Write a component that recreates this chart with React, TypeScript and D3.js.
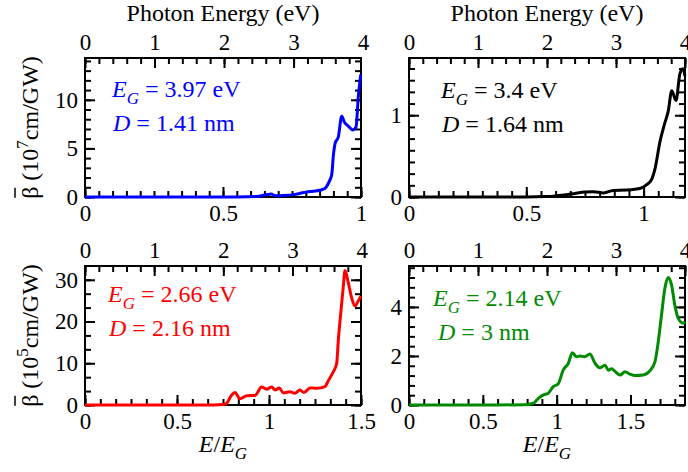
import React, { useRef, useEffect } from 'react';
import * as d3 from 'd3';

// E/E_G and beta-bar values
const blueX = [0, 0.3, 0.55, 0.62, 0.66, 0.675, 0.69, 0.72, 0.75, 0.78, 0.8, 0.826, 0.851, 0.87, 0.885, 0.894, 0.9, 0.906, 0.918, 0.93, 0.94, 0.954, 0.97, 0.982, 0.99, 0.999];
const blueY = [0, 0, 0, 0.05, 0.25, 0.3, 0.12, 0.15, 0.22, 0.38, 0.5, 0.6, 0.7, 0.9, 1.6, 2.3, 4.3, 5.5, 6.2, 8.3, 7.7, 7.3, 6.9, 7.2, 10.2, 12.6];

const blackX = [0, 0.5, 0.58, 0.615, 0.66, 0.7, 0.75, 0.786, 0.83, 0.87, 0.928, 0.99, 1.013, 1.035, 1.049, 1.07, 1.09, 1.105, 1.12, 1.138, 1.155, 1.169, 1.176];
const blackY = [0, 0, 0.005, 0.01, 0.025, 0.04, 0.06, 0.065, 0.05, 0.08, 0.085, 0.11, 0.15, 0.22, 0.35, 0.68, 0.9, 1.05, 1.3, 1.18, 1.51, 1.57, 1.48];

const redX = [0, 0.5, 0.7, 0.75, 0.77, 0.797, 0.815, 0.842, 0.879, 0.924, 0.96, 0.987, 1.015, 1.033, 1.056, 1.078, 1.114, 1.141, 1.168, 1.19, 1.223, 1.26, 1.304, 1.32, 1.335, 1.35, 1.368, 1.377, 1.39, 1.404, 1.413, 1.43, 1.449, 1.467, 1.485, 1.5];
const redY = [0, 0, 0, 0.1, 0.4, 2.4, 3.0, 1.5, 2.2, 2.3, 4.3, 3.8, 4.3, 3.6, 4.1, 2.9, 3.2, 2.8, 3.6, 3.0, 4.1, 4.0, 4.4, 5.6, 6.8, 8.0, 10.0, 15.7, 22.0, 28.5, 32.2, 29.5, 25.7, 23.7, 24.9, 26.1];

const greenX = [0, 0.5, 0.78, 0.842, 0.876, 0.91, 0.943, 0.977, 1.01, 1.045, 1.079, 1.106, 1.135, 1.158, 1.19, 1.225, 1.26, 1.293, 1.327, 1.35, 1.372, 1.395, 1.43, 1.462, 1.496, 1.53, 1.586, 1.632, 1.666, 1.688, 1.71, 1.733, 1.756, 1.778, 1.8, 1.823, 1.857, 1.869];
const greenY = [0, 0, 0.01, 0.07, 0.27, 0.41, 0.48, 0.75, 0.86, 1.43, 1.7, 2.13, 1.97, 2.0, 1.97, 2.08, 1.7, 1.52, 1.62, 1.42, 1.48, 1.37, 1.22, 1.36, 1.26, 1.2, 1.22, 1.4, 1.77, 2.58, 3.67, 4.76, 5.2, 4.9, 4.08, 3.54, 3.33, 3.4];

const gapValues = [3.97, 3.4, 2.66, 2.14];
const gapLabels = ['3.97', '3.4', '2.66', '2.14'];
const sizeLabels = ['1.41', '1.64', '2.16', '3'];
const yExponents = ['7', '5'];

const topTicks = [0, 1, 2, 3, 4];
const xTicksTop = [0, 0.5, 1];
const xTicksBottom = [0, 0.5, 1, 1.5];
const yTicksA = [0, 5, 10];
const yTicksB = [0, 1];
const yTicksC = [0, 10, 20, 30];
const yTicksD = [0, 2, 4];

const FONT = "'Liberation Serif', 'Times New Roman', serif";
const W = 276;
const H = 139;

const panels = [
  { xs: blueX, ys: blueY, color: '#0000ff', left: 85, top: 58, xMax: 1, yMax: 14.3, xMinor: 0.05, yMinor: 1, xTicks: xTicksTop, yTicks: yTicksA, tx: 27, ty: 39 },
  { xs: blackX, ys: blackY, color: '#000000', left: 409, top: 58, xMax: 4 / 3.4, yMax: 1.7, xMinor: 0.0625, yMinor: 1 / 7, xTicks: xTicksTop, yTicks: yTicksB, tx: 32, ty: 40 },
  { xs: redX, ys: redY, color: '#ff0000', left: 85, top: 266, xMax: 1.5, yMax: 33.3, xMinor: 0.5 / 6, yMinor: 10 / 3, xTicks: xTicksBottom, yTicks: yTicksC, tx: 23, ty: 36 },
  { xs: greenX, ys: greenY, color: '#008b00', left: 409, top: 266, xMax: 4 / 2.14, yMax: 5.67, xMinor: 0.1, yMinor: 0.4, xTicks: xTicksBottom, yTicks: yTicksD, tx: 24, ty: 40 },
];

const steps = (max: number, step: number) => d3.range(0, max + 1e-6, step);

function styleAxis(sel: any) {
  sel.select('.domain').remove();
  sel.attr('font-family', null).attr('font-size', null).attr('stroke-width', 2);
  sel.selectAll('text').attr('fill', '#000').style('font-family', FONT).style('font-size', '23px');
}

function drawPanel(svg: any, p: any, i: number) {
  const gap = gapValues[i];
  const x = d3.scaleLinear().domain([0, p.xMax]).range([p.left, p.left + W]);
  const xe = d3.scaleLinear().domain([0, p.xMax * gap]).range([p.left, p.left + W]);
  const y = d3.scaleLinear().domain([0, p.yMax]).range([p.top + H, p.top]);
  const g = svg.append('g');
  const bottom = p.top + H;

  const eMax = p.xMax * gap + 1e-6;
  // top axis: photon energy
  g.append('g').attr('transform', `translate(0,${p.top})`)
    .call(d3.axisTop(xe).tickValues(steps(eMax, 0.2)).tickSize(-6).tickFormat(() => '')).call(styleAxis);
  g.append('g').attr('transform', `translate(0,${p.top})`)
    .call(d3.axisTop(xe).tickValues(topTicks).tickSize(-10).tickPadding(8).tickFormat(d3.format('d'))).call(styleAxis)
    .selectAll('.tick line').attr('display', (d: number) => (d > eMax ? 'none' : null));

  // bottom axis: E/E_G
  g.append('g').attr('transform', `translate(0,${bottom})`)
    .call(d3.axisBottom(x).tickValues(steps(p.xMax, p.xMinor)).tickSize(-6).tickFormat(() => '')).call(styleAxis);
  g.append('g').attr('transform', `translate(0,${bottom})`)
    .call(d3.axisBottom(x).tickValues(p.xTicks).tickSize(-10).tickPadding(8).tickFormat(d3.format('~g'))).call(styleAxis);

  // left and right
  g.append('g').attr('transform', `translate(${p.left},0)`)
    .call(d3.axisLeft(y).tickValues(steps(p.yMax, p.yMinor)).tickSize(-6).tickFormat(() => '')).call(styleAxis);
  g.append('g').attr('transform', `translate(${p.left},0)`)
    .call(d3.axisLeft(y).tickValues(p.yTicks).tickSize(-10).tickPadding(7).tickFormat(d3.format('d'))).call(styleAxis);
  g.append('g').attr('transform', `translate(${p.left + W},0)`)
    .call(d3.axisRight(y).tickValues(steps(p.yMax, p.yMinor)).tickSize(-6).tickFormat(() => '')).call(styleAxis);
  g.append('g').attr('transform', `translate(${p.left + W},0)`)
    .call(d3.axisRight(y).tickValues(p.yTicks).tickSize(-10).tickFormat(() => '')).call(styleAxis);

  g.append('rect')
    .attr('x', p.left).attr('y', p.top).attr('width', W).attr('height', H)
    .attr('fill', 'none').attr('stroke', '#000').attr('stroke-width', 2);

  const line = d3.line<number>()
    .x((_, k) => x(p.xs[k]))
    .y((d) => y(d))
    .curve(d3.curveMonotoneX);
  g.append('path')
    .attr('d', line(p.ys))
    .attr('fill', 'none')
    .attr('stroke', p.color)
    .attr('stroke-width', 3)
    .attr('stroke-linejoin', 'round');

  // annotations
  const t1 = g.append('text')
    .attr('x', p.left + p.tx).attr('y', p.top + p.ty)
    .style('font-family', FONT).style('font-size', '24px').attr('fill', p.color);
  t1.append('tspan').attr('font-style', 'italic').text('E');
  t1.append('tspan').attr('font-style', 'italic').style('font-size', '17px').attr('dy', 7).text('G');
  t1.append('tspan').attr('dy', -7).text(` = ${gapLabels[i]} eV`);

  const t2 = g.append('text')
    .attr('x', p.left + p.tx + (i === 3 ? 5 : 1)).attr('y', p.top + p.ty + 34)
    .style('font-family', FONT).style('font-size', '24px').attr('fill', p.color);
  t2.append('tspan').attr('font-style', 'italic').text('D');
  t2.append('tspan').text(` = ${sizeLabels[i]} nm`);

  // axis titles
  const cx = p.left + W / 2;
  if (i < 2) {
    g.append('text').attr('x', cx).attr('y', 21).attr('text-anchor', 'middle')
      .style('font-family', FONT).style('font-size', '24px').text('Photon Energy (eV)');
  } else {
    const xt = g.append('text').attr('x', cx).attr('y', 452).attr('text-anchor', 'middle')
      .style('font-family', FONT).style('font-size', '24px');
    xt.append('tspan').attr('font-style', 'italic').text('E');
    xt.append('tspan').text('/');
    xt.append('tspan').attr('font-style', 'italic').text('E');
    xt.append('tspan').attr('font-style', 'italic').style('font-size', '17px').attr('dy', 7).text('G');
  }

  if (i % 2 === 0) {
    const cy = p.top + H / 2;
    const yg = g.append('g').attr('transform', `translate(38,${cy}) rotate(-90)`);
    const yt = yg.append('text').attr('text-anchor', 'middle')
      .style('font-family', FONT).style('font-size', '24px');
    yt.append('tspan').text('β');
    yt.append('tspan').text(' (10');
    yt.append('tspan').style('font-size', '17px').attr('dy', -10).text(yExponents[i / 2]);
    yt.append('tspan').attr('dy', 10).text('cm/GW)');
    const node = yt.node() as SVGTextElement;
    const ext = node.getExtentOfChar(0);
    yg.append('line')
      .attr('x1', ext.x + 1).attr('x2', ext.x + ext.width - 1)
      .attr('y1', -23).attr('y2', -23)
      .attr('stroke', '#000').attr('stroke-width', 1.5);
  }
}

export default function App() {
  const svgRef = useRef<SVGSVGElement>(null);

  useEffect(() => {
    const svg = d3.select(svgRef.current);
    svg.selectAll('*').remove();
    panels.forEach((p, i) => drawPanel(svg, p, i));
  }, []);

  return (
    <svg
      ref={svgRef}
      width={688}
      height={472}
      style={{ position: 'absolute', left: 0, top: 0, background: '#fff' }}
    />
  );
}
